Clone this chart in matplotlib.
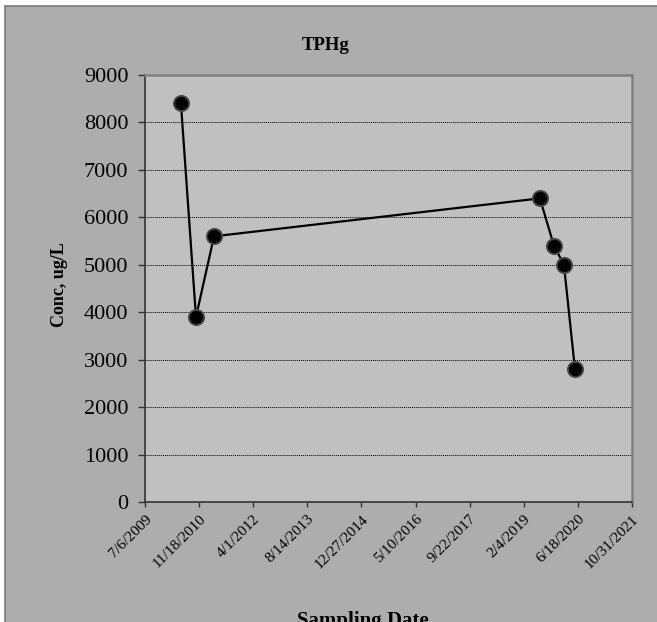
import matplotlib.pyplot as plt
import matplotlib.dates as mdates
from matplotlib.patches import Rectangle
import numpy as np
import datetime as dt

# Sample data
sample_dates = ["2010-06-03", "2010-10-20", "2011-04-05", "2019-07-03",
                "2019-11-10", "2020-02-10", "2020-05-22"]
tphg = [8400, 3900, 5600, 6400, 5400, 5000, 2800]

tick_start = dt.date(2009, 7, 6)
tick_step_days = 500
n_ticks = 10
y_ticks = [0, 1000, 2000, 3000, 4000, 5000, 6000, 7000, 8000, 9000]

plt.rcParams['font.family'] = ['Liberation Serif', 'DejaVu Serif']

fig = plt.figure(figsize=(6.57, 6.22), dpi=100)
fig.patch.set_facecolor('white')

# Excel style chart area with border
W, H = 657, 622
fig.patches.append(Rectangle((5 / W, -0.1), 1.1, 1 - 6 / H + 0.1,
                             transform=fig.transFigure, facecolor='#adadad',
                             edgecolor='#7a7a7a', linewidth=1.2, zorder=-10))

ax = fig.add_axes([145 / W, 1 - 502 / H, (632 - 145) / W, (502 - 75) / H])
ax.set_facecolor('#c0c0c0')

x = [mdates.date2num(dt.date.fromisoformat(d)) for d in sample_dates]
ax.plot(x, tphg, color='black', linewidth=1.6, marker='o', markersize=11,
        markerfacecolor='black', markeredgecolor='#4a4a4a', markeredgewidth=1.3,
        zorder=3)

ticks = [tick_start + dt.timedelta(days=i * tick_step_days) for i in range(n_ticks)]
tick_nums = [mdates.date2num(t) for t in ticks]
ax.set_xlim(tick_nums[0], tick_nums[-1])
ax.set_xticks(tick_nums)
ax.set_xticklabels([f"{t.month}/{t.day}/{t.year}" for t in ticks],
                   rotation=45, ha='right', rotation_mode='anchor', fontsize=11)

ax.set_ylim(0, 9000)
ax.set_yticks(y_ticks)
ax.set_yticklabels([str(v) for v in y_ticks], fontsize=16)
ax.yaxis.grid(True, color='black', linestyle=(0, (1, 1)), linewidth=0.7)
ax.set_axisbelow(True)

ax.tick_params(axis='y', direction='out', length=5, width=1, color='#333333', pad=7)
ax.tick_params(axis='x', direction='out', length=3.5, width=1, color='#333333', pad=4)

ax.spines['left'].set_color('#333333')
ax.spines['bottom'].set_color('#333333')
ax.spines['left'].set_linewidth(1.2)
ax.spines['bottom'].set_linewidth(1.2)
ax.spines['top'].set_color('#808080')
ax.spines['right'].set_color('#808080')
ax.spines['top'].set_linewidth(1.8)
ax.spines['right'].set_linewidth(1.8)

fig.text(326 / W, 1 - 45 / H, 'TPHg', ha='center', va='center',
         fontsize=13.5, fontweight='bold')
fig.text(60 / W, 1 - 285 / H, 'Conc, ug/L', ha='center', va='center',
         rotation=90, fontsize=13, fontweight='bold')
fig.text(363 / W, 1 - 611 / H, 'Sampling Date', ha='center', va='top',
         fontsize=15, fontweight='bold')

plt.savefig('out.png', dpi=100)
